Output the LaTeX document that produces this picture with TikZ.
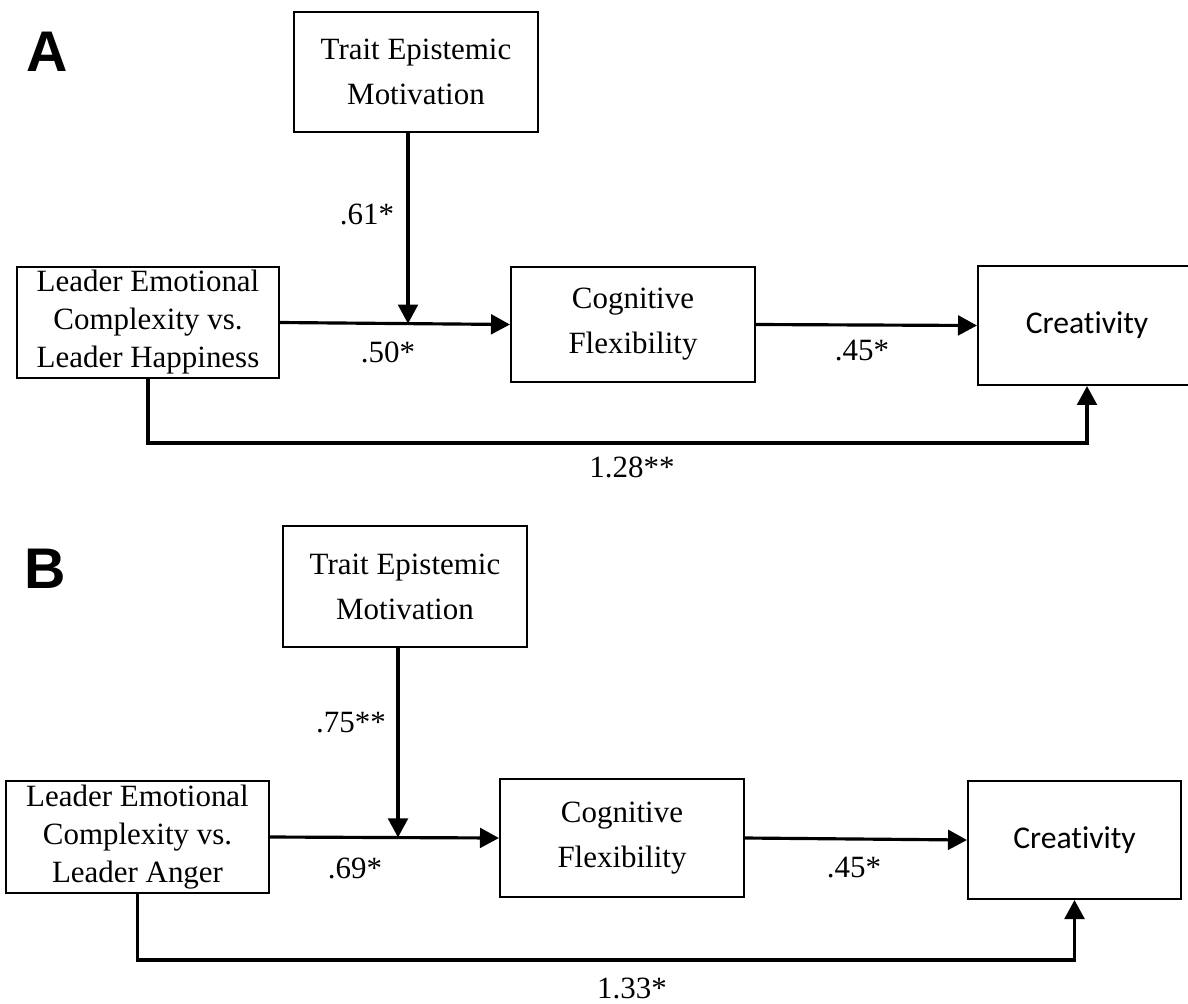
\documentclass[tikz,border=0pt]{standalone}
\usepackage{fontspec}
\setmainfont{Liberation Serif}
\newfontfamily\creafont[Ligatures=NoCommon]{Carlito}
\newfontfamily\panelfont{Liberation Sans}
\usetikzlibrary{arrows.meta}

\tikzset{
  boxnode/.style={draw, line width=0.55pt, align=center, inner sep=0pt,
    font=\fontsize{8.8}{12.8}\selectfont},
  tightbox/.style={boxnode, font=\fontsize{8.8}{10.8}\selectfont},
  outbox/.style={boxnode, font=\creafont\fontsize{9}{11}\selectfont},
  pathline/.style={line width=0.9pt, -{Triangle[length=5.4pt,width=5.6pt]}},
  coef/.style={inner sep=0pt, font=\fontsize{8.8}{10.6}\selectfont},
  panel/.style={inner sep=0pt, font=\panelfont\bfseries\fontsize{16.3}{18}\selectfont},
}

\begin{document}
\begin{tikzpicture}[x=0.01cm, y=-0.01cm]
    \useasboundingbox (0,0) rectangle (1188,1003);

    % panel A
    \node[panel] (panelA) at (47,52) {A};
    \node[boxnode, minimum width=2.44cm, minimum height=1.2cm] (traitA) at (416,72) {Trait Epistemic\\Motivation};
    \node[tightbox, minimum width=2.62cm, minimum height=1.11cm] (leaderA) at (148,322.5) {Leader Emotional\\Complexity vs.\\Leader Happiness};
    \node[boxnode, minimum width=2.44cm, minimum height=1.15cm] (cogA) at (633,324.5) {Cognitive\\Flexibility};
    \node[outbox, minimum width=2.18cm, minimum height=1.19cm] (creA) at (1087,325.5) {Creativity};

    \coordinate (jA) at (408,323.6);
    \coordinate (baseA) at (0,443);

    \draw[pathline] (leaderA.east) -- (cogA.west);
    \draw[pathline] (traitA.south -| jA) -- (jA);
    \draw[pathline] (cogA.east) -- (creA.west);
    \draw[pathline] (leaderA.south) -- (leaderA.south |- baseA) -- (creA.south |- baseA) -- (creA.south);

    \node[coef] (modA) at (367,214) {.61*};
    \node[coef] (aA) at (388,352) {.50*};
    \node[coef] (bA) at (862,351) {.45*};
    \node[coef] (cA) at (632,467) {1.28**};

    % panel B
    \node[panel] (panelB) at (45,569) {B};
    \node[boxnode, minimum width=2.44cm, minimum height=1.21cm] (traitB) at (405,586.5) {Trait Epistemic\\Motivation};
    \node[tightbox, minimum width=2.63cm, minimum height=1.12cm] (leaderB) at (137.5,837) {Leader Emotional\\Complexity vs.\\Leader Anger};
    \node[boxnode, minimum width=2.44cm, minimum height=1.18cm] (cogB) at (622,838) {Cognitive\\Flexibility};
    \node[outbox, minimum width=2.13cm, minimum height=1.18cm] (creB) at (1074.5,840) {Creativity};

    \coordinate (jB) at (398,837.4);
    \coordinate (baseB) at (0,960);

    \draw[pathline] (leaderB.east) -- (cogB.west);
    \draw[pathline] (traitB.south -| jB) -- (jB);
    \draw[pathline] (cogB.east) -- (creB.west);
    \draw[pathline] (leaderB.south) -- (leaderB.south |- baseB) -- (creB.south |- baseB) -- (creB.south);

    \node[coef] (modB) at (351,723) {.75**};
    \node[coef] (aB) at (355,868) {.69*};
    \node[coef] (bB) at (854,868) {.45*};
    \node[coef] (cB) at (632,988) {1.33*};
\end{tikzpicture}
\end{document}
